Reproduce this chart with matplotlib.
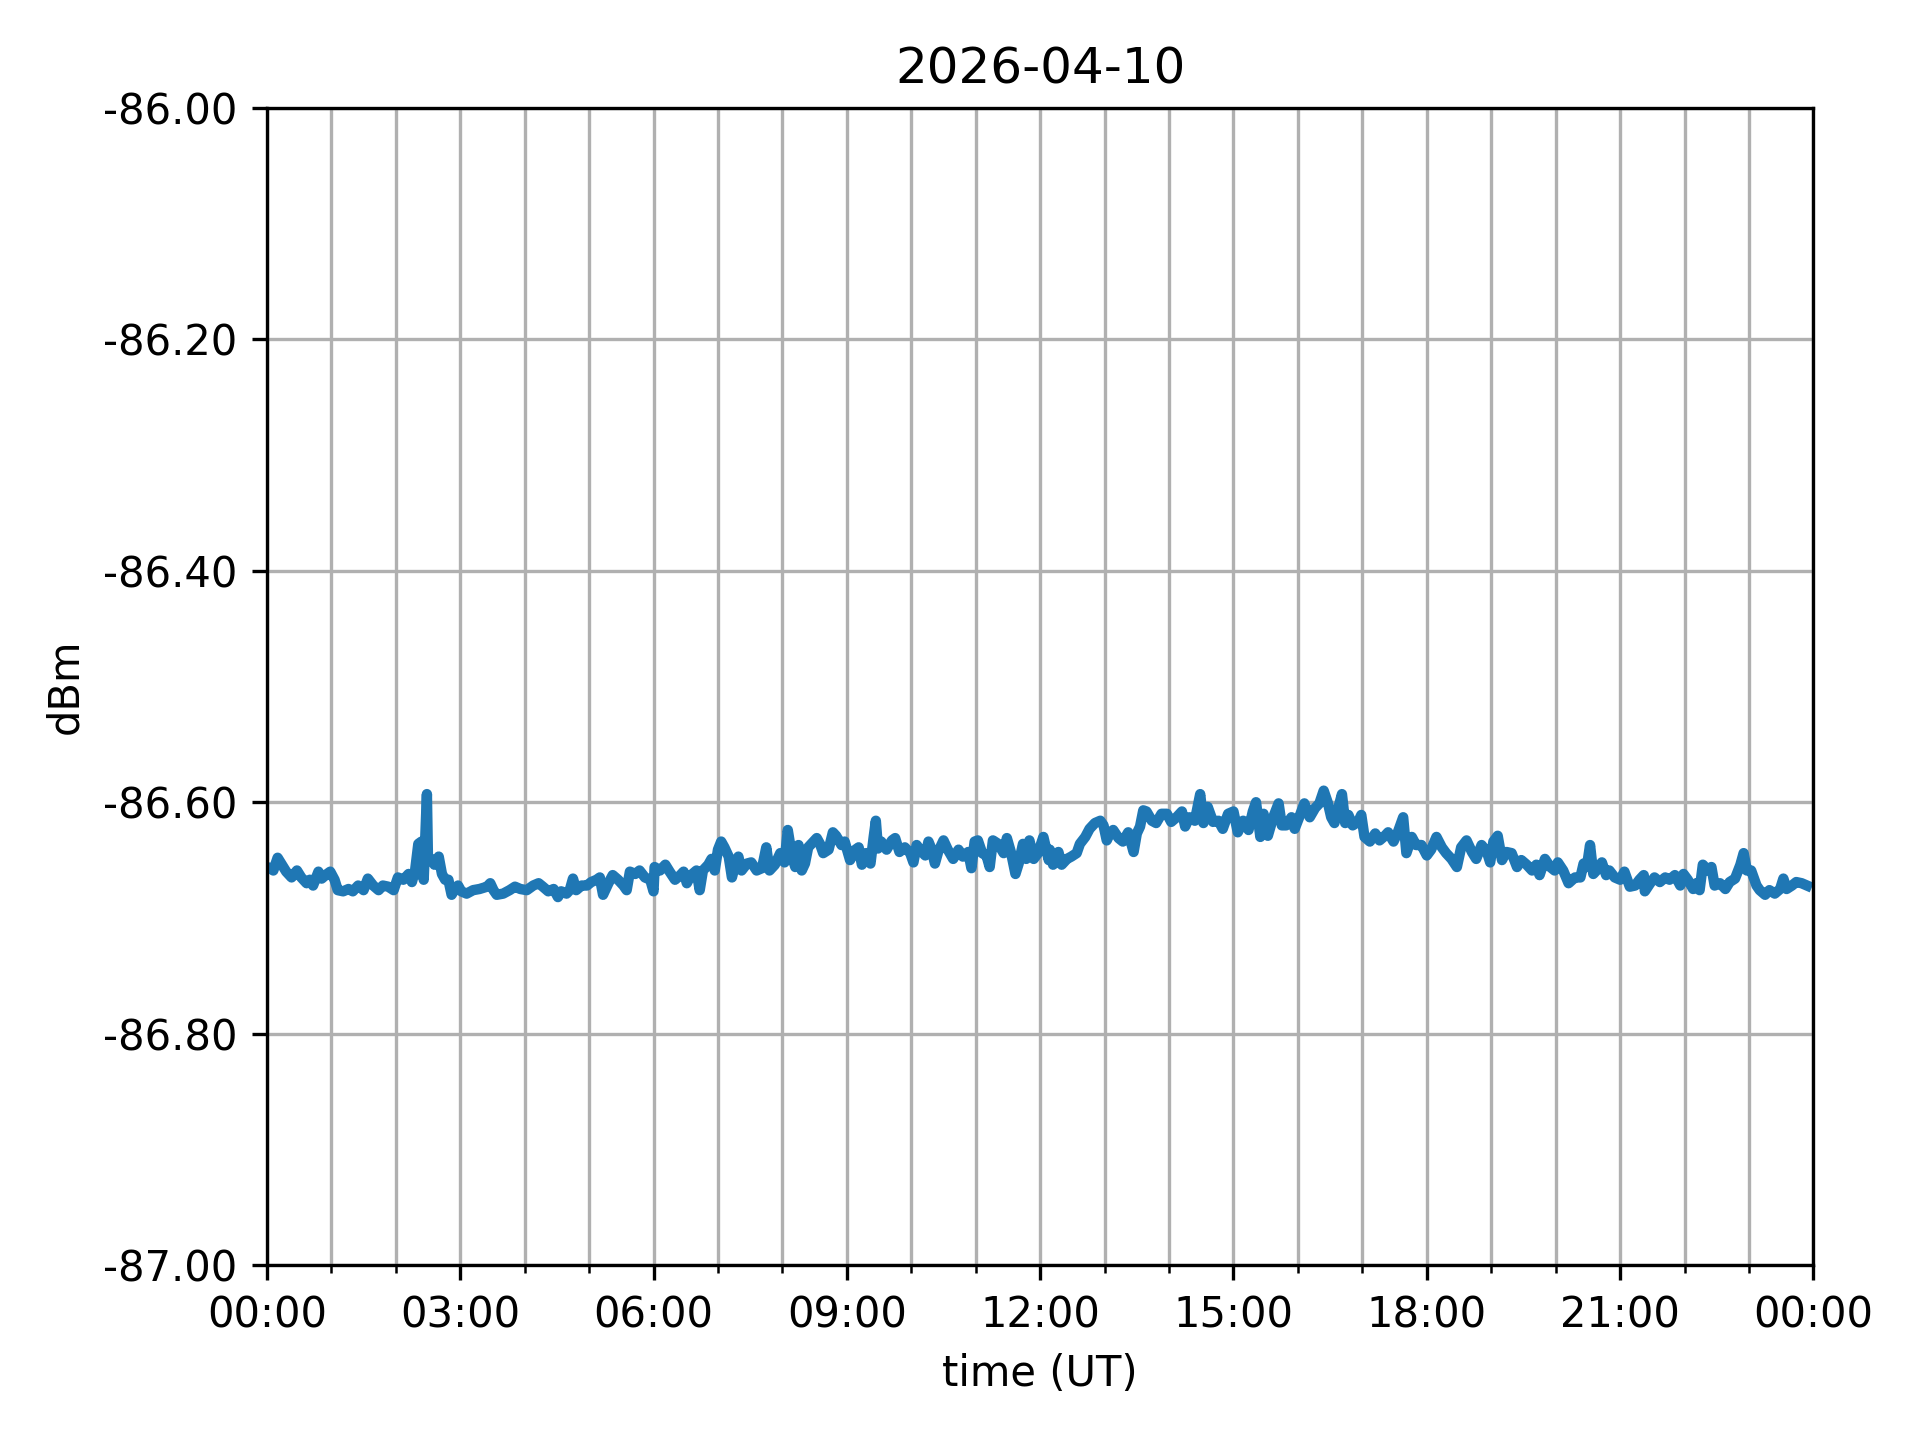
import matplotlib
matplotlib.use("Agg")
import matplotlib.pyplot as plt
import matplotlib.dates as mdates
from matplotlib.ticker import FormatStrFormatter, MultipleLocator
import pandas as pd

# day of the measurement
day = "2026-04-10"

# minutes after 00:00 UT
minutes = [
    0, 3, 6, 10, 14, 18, 23, 28, 32, 37, 40, 43, 48, 51, 56, 59, 63, 66, 71, 76,
    80, 85, 90, 94, 99, 104, 108, 113, 118, 122, 127, 132, 135, 138, 141, 144, 146, 149, 150, 153,
    156, 160, 163, 166, 169, 172, 175, 178, 181, 186, 192, 198, 205, 208, 211, 214, 220, 226, 231, 236,
    242, 248, 253, 257, 262, 267, 271, 274, 279, 282, 285, 288, 293, 298, 302, 307, 310, 313, 318, 322,
    327, 332, 335, 338, 343, 347, 352, 357, 360, 361, 366, 371, 375, 380, 385, 388, 391, 395, 400, 403,
    406, 411, 414, 417, 420, 423, 426, 430, 433, 436, 439, 442, 447, 451, 456, 461, 465, 468, 473, 478,
    482, 485, 489, 492, 495, 498, 501, 504, 509, 512, 515, 518, 523, 527, 530, 535, 538, 543, 548, 551,
    554, 558, 562, 565, 567, 569, 572, 577, 582, 585, 589, 594, 599, 602, 605, 608, 613, 616, 619, 622,
    625, 630, 634, 639, 644, 648, 653, 656, 659, 662, 666, 670, 673, 676, 681, 686, 689, 693, 697, 700,
    704, 707, 710, 714, 718, 723, 728, 729, 732, 737, 740, 745, 749, 754, 757, 762, 766, 771, 776, 779,
    782, 785, 788, 793, 797, 802, 807, 810, 813, 816, 819, 824, 828, 833, 838, 842, 847, 852, 855, 859,
    864, 869, 872, 876, 881, 886, 890, 895, 900, 904, 909, 914, 918, 921, 925, 928, 932, 937, 942, 945,
    949, 954, 957, 962, 966, 971, 976, 980, 984, 988, 991, 994, 997, 1001, 1004, 1007, 1011, 1016, 1019, 1022,
    1027, 1032, 1036, 1041, 1044, 1049, 1053, 1058, 1061, 1066, 1070, 1075, 1080, 1084, 1089, 1094, 1098, 1103, 1108, 1112,
    1117, 1122, 1126, 1131, 1136, 1139, 1142, 1146, 1150, 1154, 1159, 1164, 1168, 1173, 1178, 1182, 1185, 1190, 1195, 1199,
    1202, 1207, 1212, 1218, 1223, 1226, 1229, 1232, 1235, 1238, 1243, 1247, 1250, 1255, 1260, 1264, 1269, 1274, 1278, 1282,
    1283, 1288, 1292, 1297, 1302, 1306, 1311, 1316, 1319, 1323, 1328, 1331, 1334, 1337, 1342, 1345, 1348, 1353, 1358, 1362,
    1367, 1372, 1375, 1378, 1382, 1387, 1390, 1395, 1399, 1404, 1409, 1412, 1415, 1420, 1424, 1429, 1434,
]

# received power (dBm)
dbm = [
    -86.656, -86.657, -86.659, -86.648, -86.654, -86.660, -86.665, -86.659, -86.665, -86.670,
    -86.667, -86.672, -86.660, -86.666, -86.662, -86.660, -86.667, -86.676, -86.677, -86.675,
    -86.677, -86.672, -86.676, -86.666, -86.672, -86.676, -86.672, -86.673, -86.676, -86.665,
    -86.667, -86.662, -86.669, -86.659, -86.636, -86.634, -86.667, -86.593, -86.650, -86.649,
    -86.654, -86.647, -86.662, -86.667, -86.667, -86.680, -86.675, -86.672, -86.677, -86.679,
    -86.676, -86.675, -86.673, -86.670, -86.676, -86.680, -86.679, -86.676, -86.673, -86.675,
    -86.676, -86.672, -86.670, -86.673, -86.677, -86.675, -86.682, -86.677, -86.679, -86.676,
    -86.666, -86.676, -86.672, -86.672, -86.669, -86.667, -86.665, -86.680, -86.670, -86.663,
    -86.667, -86.672, -86.676, -86.660, -86.662, -86.659, -86.665, -86.667, -86.677, -86.656,
    -86.659, -86.654, -86.660, -86.667, -86.663, -86.660, -86.670, -86.663, -86.659, -86.676,
    -86.659, -86.654, -86.649, -86.659, -86.641, -86.634, -86.639, -86.647, -86.665, -86.654,
    -86.647, -86.659, -86.653, -86.652, -86.659, -86.657, -86.639, -86.659, -86.654, -86.644,
    -86.652, -86.624, -86.647, -86.656, -86.637, -86.659, -86.653, -86.639, -86.634, -86.631,
    -86.636, -86.644, -86.641, -86.626, -86.629, -86.637, -86.634, -86.650, -86.641, -86.639,
    -86.654, -86.644, -86.653, -86.630, -86.616, -86.640, -86.634, -86.641, -86.633, -86.631,
    -86.643, -86.639, -86.644, -86.652, -86.637, -86.641, -86.646, -86.634, -86.641, -86.653,
    -86.643, -86.633, -86.641, -86.649, -86.641, -86.647, -86.643, -86.657, -86.634, -86.633,
    -86.644, -86.646, -86.656, -86.633, -86.636, -86.644, -86.631, -86.644, -86.662, -86.653,
    -86.636, -86.649, -86.633, -86.649, -86.644, -86.630, -86.650, -86.641, -86.654, -86.643,
    -86.654, -86.649, -86.647, -86.644, -86.636, -86.630, -86.623, -86.618, -86.616, -86.620,
    -86.633, -86.627, -86.624, -86.631, -86.634, -86.626, -86.643, -86.627, -86.621, -86.607,
    -86.608, -86.616, -86.618, -86.610, -86.610, -86.617, -86.613, -86.608, -86.621, -86.613,
    -86.616, -86.593, -86.618, -86.604, -86.617, -86.616, -86.623, -86.610, -86.608, -86.626,
    -86.616, -86.624, -86.608, -86.600, -86.630, -86.610, -86.629, -86.613, -86.601, -86.620,
    -86.620, -86.613, -86.623, -86.611, -86.601, -86.613, -86.605, -86.601, -86.590, -86.601,
    -86.613, -86.618, -86.607, -86.593, -86.618, -86.611, -86.620, -86.617, -86.611, -86.630,
    -86.634, -86.627, -86.633, -86.629, -86.626, -86.634, -86.626, -86.613, -86.644, -86.630,
    -86.637, -86.637, -86.646, -86.641, -86.630, -86.639, -86.644, -86.649, -86.656, -86.639,
    -86.633, -86.643, -86.649, -86.637, -86.643, -86.652, -86.634, -86.629, -86.650, -86.643,
    -86.644, -86.656, -86.650, -86.654, -86.659, -86.654, -86.663, -86.649, -86.656, -86.659,
    -86.652, -86.659, -86.670, -86.665, -86.665, -86.653, -86.656, -86.637, -86.662, -86.659,
    -86.652, -86.663, -86.659, -86.665, -86.667, -86.660, -86.673, -86.672, -86.667, -86.663,
    -86.677, -86.670, -86.665, -86.669, -86.665, -86.667, -86.663, -86.672, -86.662, -86.667,
    -86.675, -86.670, -86.676, -86.654, -86.659, -86.656, -86.672, -86.670, -86.675, -86.669,
    -86.666, -86.654, -86.644, -86.659, -86.659, -86.672, -86.676, -86.680, -86.676, -86.679,
    -86.675, -86.666, -86.675, -86.672, -86.669, -86.670, -86.672,
]

start = pd.Timestamp(day)
times = start + pd.to_timedelta(minutes, unit="min")

fig, ax = plt.subplots(figsize=(6.4, 4.8), dpi=300)
fig.subplots_adjust(left=0.139, right=0.9445, top=0.925, bottom=0.1215)

ax.plot(times, dbm, color="#1f77b4", linewidth=2.5)

ax.set_xlim(start, start + pd.Timedelta(days=1))
ax.set_ylim(-87.0, -86.0)
ax.xaxis.set_major_locator(mdates.HourLocator(byhour=range(0, 24, 3)))
ax.xaxis.set_minor_locator(mdates.HourLocator())
ax.xaxis.set_major_formatter(mdates.DateFormatter("%H:%M"))
ax.yaxis.set_major_locator(MultipleLocator(0.2))
ax.yaxis.set_major_formatter(FormatStrFormatter("%.2f"))
ax.grid(True, which="both")

ax.set_title(day)
ax.set_xlabel("time (UT)")
ax.set_ylabel("dBm")

fig.savefig("out.png", dpi=300)
